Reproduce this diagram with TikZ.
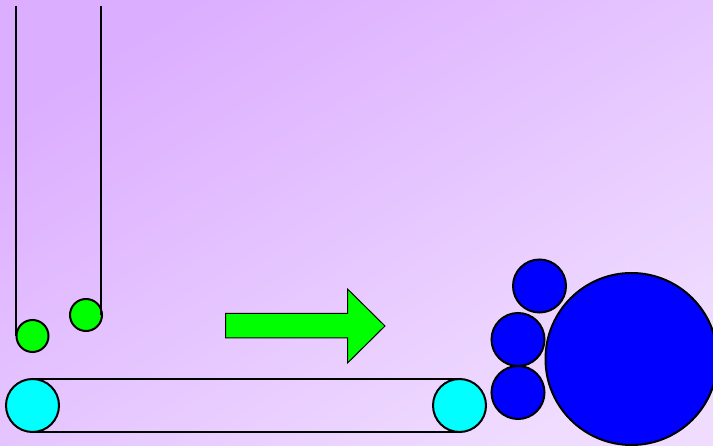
\documentclass[tikz,border=0pt]{standalone}
\definecolor{bgA}{HTML}{DCAEFF}
\definecolor{bgB}{HTML}{EFDCFF}
\definecolor{ballgreen}{HTML}{00FF00}
\definecolor{ballcyan}{HTML}{00FFFF}
\definecolor{ballblue}{HTML}{0000FF}
\tikzset{
  ink/.style={draw=black,line width=2pt},
  ball/.style={circle,ink,inner sep=0pt,outer sep=0pt},
  greenball/.style={ball,fill=ballgreen,minimum size=32pt},
  cyanball/.style={ball,fill=ballcyan,minimum size=53pt},
  blueball/.style={ball,fill=ballblue,minimum size=53pt},
  bigball/.style={ball,fill=ballblue,minimum size=172pt},
  wall/.style={ink},
  belt/.style={ink},
  bigarrow/.style={ink,line width=1pt,fill=ballgreen,miter limit=10}
}
\begin{document}
\begin{tikzpicture}[x=1pt,y=-1pt]
\useasboundingbox (0,0) rectangle (713,446);
\begin{scope}
\clip (0,0) rectangle (713,446);
\shade[left color=bgA,right color=bgB,shading angle=32] (0,0) rectangle (713,446);
\end{scope}
\coordinate (wallA) at (16.3,6);
\coordinate (wallB) at (101.3,6);
\node[greenball] (g1) at (32.5,336) {};
\node[greenball] (g2) at (86,315) {};
\node[cyanball] (c1) at (32.5,405.5) {};
\node[cyanball] (c2) at (459.5,405.5) {};
\node[blueball] (b1) at (539.5,286) {};
\node[blueball] (b2) at (518,339.5) {};
\node[blueball] (b3) at (518,392.5) {};
\node[bigball] (b4) at (631.5,359) {};
\draw[wall] (wallA) -- (wallA |- g1.west);
\draw[wall] (wallB) -- (wallB |- g2.east);
\draw[belt] (c1.north) -- (c2.north);
\draw[belt] (c1.south) -- (c2.south);
\draw[bigarrow] (225.5,313.5) -- (347.5,313.5) -- (347.5,289) -- (385,326) -- (347.5,363) -- (347.5,338) -- (225.5,338) -- cycle;
\end{tikzpicture}
\end{document}
